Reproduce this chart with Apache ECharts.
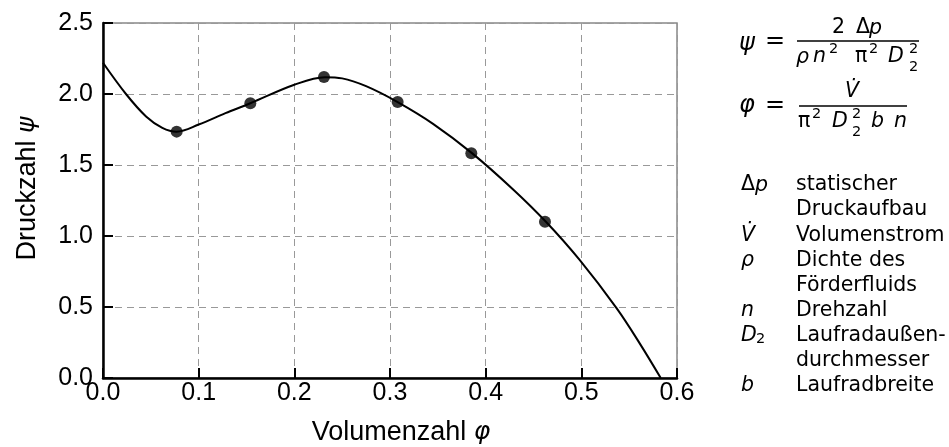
<!DOCTYPE html>
<html><head><meta charset="utf-8">
<script src="https://cdn.jsdelivr.net/npm/echarts@6/dist/echarts.min.js"></script>
<style>html,body{margin:0;padding:0;background:#fff}#c{width:949px;height:447px}</style>
</head><body><div id="c"></div>
<script>
// Curve
const curvePhi = [0, 0.024, 0.045, 0.062, 0.077, 0.100, 0.128, 0.154, 0.200, 0.232, 0.250, 0.275, 0.308, 0.345, 0.386, 0.429, 0.463, 0.498, 0.537, 0.561, 0.583];
const curvePsi = [2.22, 2.00, 1.842, 1.762, 1.735, 1.785, 1.865, 1.935, 2.065, 2.118, 2.110, 2.055, 1.943, 1.790, 1.582, 1.326, 1.100, 0.833, 0.490, 0.244, 0.0];
// Measured points
const pointPhi = [0.077, 0.154, 0.231, 0.308, 0.385, 0.462];
const pointPsi = [1.735, 1.935, 2.120, 1.943, 1.582, 1.100];
// Axis settings
const xTicks = [0, 0.1, 0.2, 0.3, 0.4, 0.5, 0.6];
const yTicks = [0, 0.5, 1.0, 1.5, 2.0, 2.5];
const xTitle = 'Volumenzahl ';
const xTitleSym = 'φ';
const yTitle = 'Druckzahl ';
const yTitleSym = 'ψ';
// Legend of symbols
const legendSymbols = ['Δp', 'V\u0307', 'ρ', 'n', 'D2', 'b'];
const legendTexts = [['statischer', 'Druckaufbau'], ['Volumenstrom'], ['Dichte des', 'Förderfluids'], ['Drehzahl'], ['Laufradaußen-', 'durchmesser'], ['Laufradbreite']];

const FF = '"DejaVu Sans"';
function txt(s, x, y, size, italic, align) {
  return { type: 'text', x: x, y: y, silent: true,
    style: { text: s, font: (italic ? 'italic ' : '') + size + 'px ' + FF, fill: '#000',
      textAlign: align || 'left', textVerticalAlign: 'middle' } };
}
function bar(x1, x2, y) {
  return { type: 'line', silent: true, shape: { x1: x1, y1: y, x2: x2, y2: y }, style: { stroke: '#000', lineWidth: 1.3 } };
}
const B = 20.5, S = 14.5, L = 20.5;
const g = [];
// psi formula
g.push(txt('ψ', 739, 44, 24, true));
g.push(txt('=', 765, 41.5, 24, false));
g.push(bar(797, 919, 41));
g.push(txt('2', 832, 28, B, false));
g.push(txt('Δ', 856, 28, B, false));
g.push(txt('p', 869, 29, B, true));
g.push(txt('ρ', 796, 58, B, true));
g.push(txt('n', 813, 57, B, true));
g.push(txt('2', 829, 49, S, false));
g.push(txt('π', 855, 57, B, false));
g.push(txt('2', 869, 49, S, false));
g.push(txt('D', 888, 57, B, true));
g.push(txt('2', 909, 49, S, false));
g.push(txt('2', 909, 67, S, false));
// phi formula
g.push(txt('φ', 739, 106, 24, true));
g.push(txt('=', 765, 106, 24, false));
g.push(bar(799, 907, 106));
g.push(txt('V\u0307', 845, 92, B, true));
g.push(txt('π', 798, 122, B, false));
g.push(txt('2', 812, 114, S, false));
g.push(txt('D', 832, 122, B, true));
g.push(txt('2', 852, 114, S, false));
g.push(txt('2', 852, 132, S, false));
g.push(txt('b', 871, 122, B, true));
g.push(txt('n', 894, 122, B, true));
// legend
let row = 0;
legendSymbols.forEach(function (sym, i) {
  const y = 185 + row * 25.1;
  if (sym === 'Δp') { g.push(txt('Δ', 741, y, L, false)); g.push(txt('p', 755, y + 1, L, true)); }
  else if (sym === 'D2') { g.push(txt('D', 741, y, L, true)); g.push(txt('2', 756, y + 4, S, false)); }
  else g.push(txt(sym, 741, y, L, true));
  legendTexts[i].forEach(function (line) {
    g.push(txt(line, 796, 185 + row * 25.1, L, false));
    row++;
  });
});

const chart = echarts.init(document.getElementById('c'), null, { renderer: 'canvas' });
const curve = curvePhi.map((v, i) => [v, curvePsi[i]]);
const pts = pointPhi.map((v, i) => [v, pointPsi[i]]);
const AF = '"Liberation Sans", Arial, sans-serif';
const labelFont = { fontFamily: AF, fontSize: 25, color: '#000' };
chart.setOption({
  animation: false,
  backgroundColor: '#fff',
  grid: { left: 103, right: 272, top: 23, bottom: 69, containLabel: false, outerBoundsMode: 'none',
    show: true, borderColor: '#888', borderWidth: 1.5, backgroundColor: 'transparent' },
  xAxis: {
    type: 'value', min: xTicks[0], max: xTicks[xTicks.length - 1], interval: 0.1,
    name: xTitle + '{i|' + xTitleSym + '}', nameLocation: 'middle', nameGap: 41,
    nameTextStyle: { fontFamily: AF, fontSize: 27, color: '#000', padding: [0, 0, 0, 22],
      rich: { i: { fontFamily: FF, fontStyle: 'italic', fontSize: 25, color: '#000' } } },
    axisLine: { lineStyle: { color: '#000', width: 2.5 } },
    axisTick: { inside: true, length: 10, lineStyle: { color: '#000', width: 2 } },
    axisLabel: Object.assign({ margin: 3, formatter: v => v.toFixed(1) }, labelFont),
    splitLine: { show: true, lineStyle: { type: [7, 5], color: '#999', width: 1 } }
  },
  yAxis: {
    type: 'value', min: yTicks[0], max: yTicks[yTicks.length - 1], interval: 0.5,
    name: yTitle + '{i|' + yTitleSym + '}', nameLocation: 'middle', nameGap: 62, nameRotate: 90,
    nameTextStyle: { fontFamily: AF, fontSize: 27, color: '#000', padding: [0, 0, 0, 24],
      rich: { i: { fontFamily: FF, fontStyle: 'italic', fontSize: 25, color: '#000' } } },
    axisLine: { show: true, lineStyle: { color: '#000', width: 2.5 } },
    axisTick: { show: true, inside: true, length: 10, lineStyle: { color: '#000', width: 2 } },
    axisLabel: Object.assign({ margin: 10, formatter: v => v.toFixed(1) }, labelFont),
    splitLine: { show: true, lineStyle: { type: [7, 5], color: '#999', width: 1 } }
  },
  series: [
    { type: 'line', data: curve, smooth: 0.35, showSymbol: false, lineStyle: { color: '#000', width: 2 }, z: 3 },
    { type: 'scatter', data: pts, symbolSize: 12, itemStyle: { color: '#000' }, z: 4 }
  ],
  graphic: g
});
</script>
</body></html>
